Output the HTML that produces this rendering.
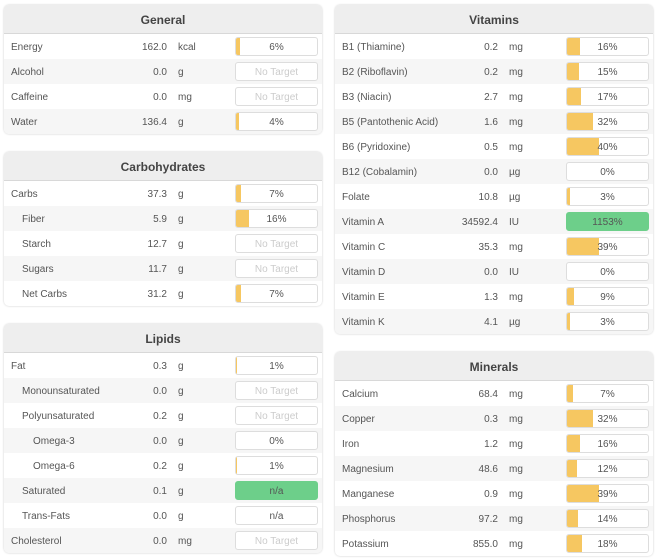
<!DOCTYPE html><html><head><style>
body{margin:0;width:658px;height:559px;background:#fff;font-family:"Liberation Sans",sans-serif;font-size:10px;color:#555;position:relative;overflow:hidden}
.p{position:absolute;width:318px;border-radius:5px;box-shadow:0 0 2px #ccc;background:#fff;overflow:hidden}
.h{height:28px;line-height:30px;background:#eee;border-bottom:1px solid #d8d8d8;text-align:center;font-weight:bold;font-size:12px;color:#444}
.r{height:25px;position:relative;line-height:27px}
.r:nth-child(odd){background:#f6f6f6}
.n{position:absolute;left:7px}
.v{position:absolute;right:155px;text-align:right}
.u{position:absolute;left:174px}
.b{position:absolute;left:231px;top:3px;width:81px;height:17px;border:1px solid #ddd;border-radius:3px;background:#fff;text-align:center;line-height:19px;overflow:hidden}
.b i{position:absolute;left:0;top:0;bottom:0;background:#f6c761}
.b s{text-decoration:none;position:relative}
.b.nt{color:#ccc}
.b.g{background:#6dcf8a;border-color:#6dcf8a}
.i1 .n{left:18px}.i2 .n{left:29px}
</style></head><body>
<div class="p" style="left:4px;top:5px">
<div class="h">General</div>
<div class="r"><span class="n">Energy</span><span class="v">162.0</span><span class="u">kcal</span><div class="b"><i style="width:4px"></i><s>6%</s></div></div>
<div class="r"><span class="n">Alcohol</span><span class="v">0.0</span><span class="u">g</span><div class="b nt">No Target</div></div>
<div class="r"><span class="n">Caffeine</span><span class="v">0.0</span><span class="u">mg</span><div class="b nt">No Target</div></div>
<div class="r"><span class="n">Water</span><span class="v">136.4</span><span class="u">g</span><div class="b"><i style="width:3px"></i><s>4%</s></div></div>
</div>
<div class="p" style="left:4px;top:152px">
<div class="h">Carbohydrates</div>
<div class="r"><span class="n">Carbs</span><span class="v">37.3</span><span class="u">g</span><div class="b"><i style="width:5px"></i><s>7%</s></div></div>
<div class="r i1"><span class="n">Fiber</span><span class="v">5.9</span><span class="u">g</span><div class="b"><i style="width:13px"></i><s>16%</s></div></div>
<div class="r i1"><span class="n">Starch</span><span class="v">12.7</span><span class="u">g</span><div class="b nt">No Target</div></div>
<div class="r i1"><span class="n">Sugars</span><span class="v">11.7</span><span class="u">g</span><div class="b nt">No Target</div></div>
<div class="r i1"><span class="n">Net Carbs</span><span class="v">31.2</span><span class="u">g</span><div class="b"><i style="width:5px"></i><s>7%</s></div></div>
</div>
<div class="p" style="left:4px;top:324px">
<div class="h">Lipids</div>
<div class="r"><span class="n">Fat</span><span class="v">0.3</span><span class="u">g</span><div class="b"><i style="width:1px"></i><s>1%</s></div></div>
<div class="r i1"><span class="n">Monounsaturated</span><span class="v">0.0</span><span class="u">g</span><div class="b nt">No Target</div></div>
<div class="r i1"><span class="n">Polyunsaturated</span><span class="v">0.2</span><span class="u">g</span><div class="b nt">No Target</div></div>
<div class="r i2"><span class="n">Omega-3</span><span class="v">0.0</span><span class="u">g</span><div class="b"><s>0%</s></div></div>
<div class="r i2"><span class="n">Omega-6</span><span class="v">0.2</span><span class="u">g</span><div class="b"><i style="width:1px"></i><s>1%</s></div></div>
<div class="r i1"><span class="n">Saturated</span><span class="v">0.1</span><span class="u">g</span><div class="b g"><s>n/a</s></div></div>
<div class="r i1"><span class="n">Trans-Fats</span><span class="v">0.0</span><span class="u">g</span><div class="b"><s>n/a</s></div></div>
<div class="r"><span class="n">Cholesterol</span><span class="v">0.0</span><span class="u">mg</span><div class="b nt">No Target</div></div>
</div>
<div class="p" style="left:335px;top:5px">
<div class="h">Vitamins</div>
<div class="r"><span class="n">B1 (Thiamine)</span><span class="v">0.2</span><span class="u">mg</span><div class="b"><i style="width:13px"></i><s>16%</s></div></div>
<div class="r"><span class="n">B2 (Riboflavin)</span><span class="v">0.2</span><span class="u">mg</span><div class="b"><i style="width:12px"></i><s>15%</s></div></div>
<div class="r"><span class="n">B3 (Niacin)</span><span class="v">2.7</span><span class="u">mg</span><div class="b"><i style="width:14px"></i><s>17%</s></div></div>
<div class="r"><span class="n">B5 (Pantothenic Acid)</span><span class="v">1.6</span><span class="u">mg</span><div class="b"><i style="width:26px"></i><s>32%</s></div></div>
<div class="r"><span class="n">B6 (Pyridoxine)</span><span class="v">0.5</span><span class="u">mg</span><div class="b"><i style="width:32px"></i><s>40%</s></div></div>
<div class="r"><span class="n">B12 (Cobalamin)</span><span class="v">0.0</span><span class="u">µg</span><div class="b"><s>0%</s></div></div>
<div class="r"><span class="n">Folate</span><span class="v">10.8</span><span class="u">µg</span><div class="b"><i style="width:3px"></i><s>3%</s></div></div>
<div class="r"><span class="n">Vitamin A</span><span class="v">34592.4</span><span class="u">IU</span><div class="b g"><s>1153%</s></div></div>
<div class="r"><span class="n">Vitamin C</span><span class="v">35.3</span><span class="u">mg</span><div class="b"><i style="width:32px"></i><s>39%</s></div></div>
<div class="r"><span class="n">Vitamin D</span><span class="v">0.0</span><span class="u">IU</span><div class="b"><s>0%</s></div></div>
<div class="r"><span class="n">Vitamin E</span><span class="v">1.3</span><span class="u">mg</span><div class="b"><i style="width:7px"></i><s>9%</s></div></div>
<div class="r"><span class="n">Vitamin K</span><span class="v">4.1</span><span class="u">µg</span><div class="b"><i style="width:3px"></i><s>3%</s></div></div>
</div>
<div class="p" style="left:335px;top:352px">
<div class="h">Minerals</div>
<div class="r"><span class="n">Calcium</span><span class="v">68.4</span><span class="u">mg</span><div class="b"><i style="width:6px"></i><s>7%</s></div></div>
<div class="r"><span class="n">Copper</span><span class="v">0.3</span><span class="u">mg</span><div class="b"><i style="width:26px"></i><s>32%</s></div></div>
<div class="r"><span class="n">Iron</span><span class="v">1.2</span><span class="u">mg</span><div class="b"><i style="width:13px"></i><s>16%</s></div></div>
<div class="r"><span class="n">Magnesium</span><span class="v">48.6</span><span class="u">mg</span><div class="b"><i style="width:10px"></i><s>12%</s></div></div>
<div class="r"><span class="n">Manganese</span><span class="v">0.9</span><span class="u">mg</span><div class="b"><i style="width:32px"></i><s>39%</s></div></div>
<div class="r"><span class="n">Phosphorus</span><span class="v">97.2</span><span class="u">mg</span><div class="b"><i style="width:11px"></i><s>14%</s></div></div>
<div class="r"><span class="n">Potassium</span><span class="v">855.0</span><span class="u">mg</span><div class="b"><i style="width:15px"></i><s>18%</s></div></div>
</div>
</body></html>
